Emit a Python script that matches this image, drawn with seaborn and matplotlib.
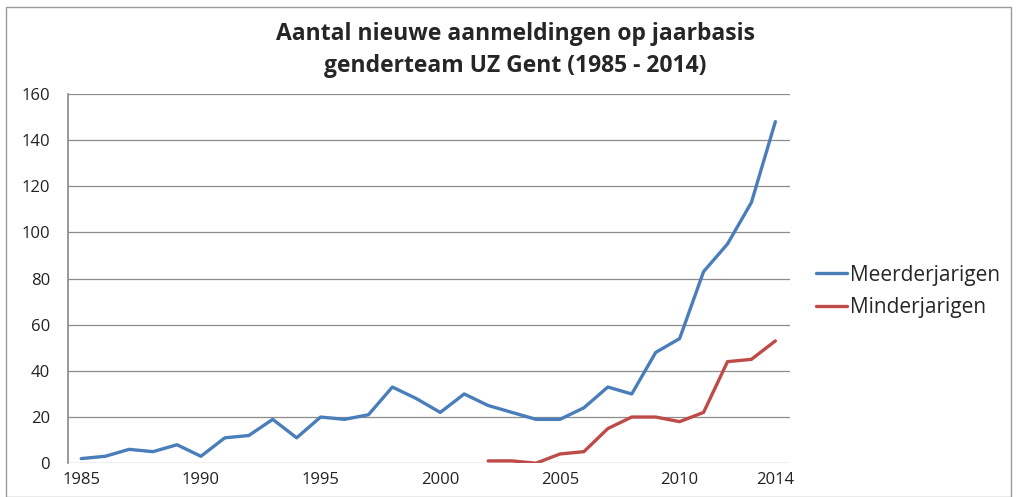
import numpy as np
import pandas as pd
import matplotlib
matplotlib.use("Agg")
import matplotlib.pyplot as plt
from matplotlib.patches import Rectangle
import seaborn as sns

# Data
years = list(range(1985, 2015))
meerderjarigen = [2, 3, 6, 5, 8, 3, 11, 12, 19, 11,
                  20, 19, 21, 33, 28, 22, 30, 25, 22, 19,
                  19, 24, 33, 30, 48, 54, 83, 95, 113, 148]
minderjarigen = [np.nan] * 17 + [1, 1, 0, 4, 5, 15, 20, 20, 18, 22, 44, 45, 53]
x_ticks = [1985, 1990, 1995, 2000, 2005, 2010, 2014]
y_ticks = list(range(0, 161, 20))

sns.set_theme(style="white")
plt.rcParams['font.family'] = ['Open Sans', 'DejaVu Sans']

df = pd.DataFrame({"jaar": years,
                   "Meerderjarigen": meerderjarigen,
                   "Minderjarigen": minderjarigen})
long = df.melt(id_vars="jaar", var_name="groep", value_name="aantal").dropna()

fig = plt.figure(figsize=(10.16, 4.97), dpi=100)
ax = fig.add_axes([0.067, 0.068, 0.711, 0.743])

sns.lineplot(data=long, x="jaar", y="aantal", hue="groep",
             palette={"Meerderjarigen": "#4a7ebb", "Minderjarigen": "#be4b48"},
             linewidth=2.4, ax=ax)

ax.set_xlim(1985 - 0.55, 2014 + 0.63)
ax.set_ylim(0, 160)
ax.set_yticks(y_ticks)
ax.set_xticks(x_ticks)
ax.set_xticklabels([str(t) for t in x_ticks], fontsize=12)
ax.set_yticklabels([str(t) for t in y_ticks], fontsize=12)
ax.tick_params(axis="y", length=0, pad=13, colors="#222222")
ax.tick_params(axis="x", length=0, pad=6, colors="#222222")
ax.yaxis.grid(True, color="#8c8c8c", linewidth=0.9)
ax.set_axisbelow(True)
for side in ["top", "right", "bottom"]:
    ax.spines[side].set_visible(False)
ax.spines["left"].set_color("#8c8c8c")
ax.set_xlabel("")
ax.set_ylabel("")

ax.legend(loc="center left", bbox_to_anchor=(1.035, 0.465), frameon=False,
          fontsize=15, handlelength=1.5, handletextpad=0.15, labelspacing=0.55,
          borderaxespad=0, borderpad=0)

fig.text(0.507, 0.932, "Aantal nieuwe aanmeldingen op jaarbasis",
         ha="center", va="center", fontsize=16.5, fontweight="bold")
fig.text(0.507, 0.868, "genderteam UZ Gent (1985 - 2014)",
         ha="center", va="center", fontsize=16.5, fontweight="bold")

fig.patches.append(Rectangle((0.006, 0.0), 0.989, 0.985, transform=fig.transFigure,
                             fill=False, edgecolor="#9a9a9a", linewidth=1))

fig.savefig("out.png", dpi=100)
